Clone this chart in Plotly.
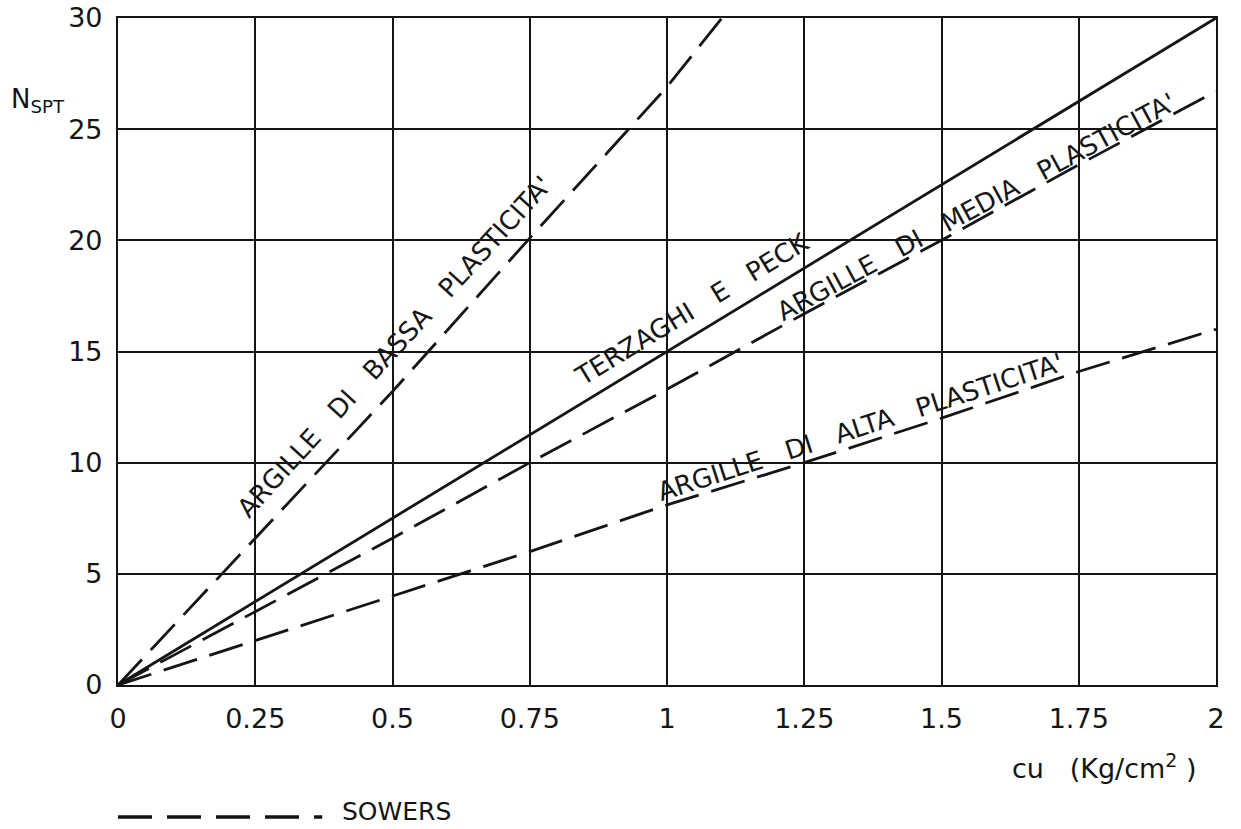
import plotly.graph_objects as go

# ---- data ----
cu_ticks = [0, 0.25, 0.5, 0.75, 1, 1.25, 1.5, 1.75, 2]
cu_tick_labels = ["0", "0.25", "0.5", "0.75", "1", "1.25", "1.5", "1.75", "2"]
n_ticks = [0, 5, 10, 15, 20, 25, 30]

terzaghi_cu = [0, 1.0, 2.0]
terzaghi_n = [0, 15.0, 30.0]

bassa_cu = [0, 0.25, 0.5, 0.75, 1.0, 1.1]
bassa_n = [0, 6.6, 13.2, 20.1, 26.9, 30.0]

media_cu = [0, 0.25, 0.5, 0.75, 1.0, 1.25, 1.5, 1.75, 2.0]
media_n = [0, 3.3, 6.6, 10.0, 13.3, 16.7, 20.0, 23.4, 26.7]

alta_cu = [0, 0.25, 0.5, 0.75, 1.0, 1.25, 1.5, 1.75, 2.0]
alta_n = [0, 2.0, 4.0, 6.0, 8.1, 10.0, 12.0, 14.1, 16.0]

SP = "\u00a0\u00a0\u00a0"
labels = [
    ("ARGILLE" + SP + "DI" + SP + "BASSA" + SP + "PLASTICITA'", 0.503, 15.2, -47.6),
    ("TERZAGHI" + SP + "E" + SP + "PECK", 1.046, 16.9, -31.3),
    ("ARGILLE" + SP + "DI" + SP + "MEDIA" + SP + "PLASTICITA'", 1.563, 21.5, -28.4),
    ("ARGILLE" + SP + "DI" + SP + "ALTA" + SP + "PLASTICITA'", 1.353, 11.6, -18.0),
]

INK = "#151515"
FONT = "DejaVu Sans"
DASH = "35px,13px"

fig = go.Figure()
fig.add_trace(go.Scatter(x=terzaghi_cu, y=terzaghi_n, mode="lines",
                         line=dict(color=INK, width=2.8), name="Terzaghi e Peck",
                         showlegend=False))
for xs, ys, nm in [(bassa_cu, bassa_n, "bassa"), (media_cu, media_n, "media"),
                   (alta_cu, alta_n, "alta")]:
    fig.add_trace(go.Scatter(x=xs, y=ys, mode="lines",
                             line=dict(color=INK, width=2.8, dash=DASH),
                             name=nm, showlegend=False))

for txt, x, y, ang in labels:
    fig.add_annotation(x=x, y=y, xref="x", yref="y", text=txt, showarrow=False,
                       textangle=ang, xanchor="center", yanchor="middle",
                       font=dict(family=FONT, size=26, color=INK))

# axis titles
fig.add_annotation(x=-0.0725, y=0.877, xref="paper", yref="paper", text="N<sub>SPT</sub>",
                   showarrow=False, xanchor="center", yanchor="middle",
                   font=dict(family=FONT, size=26, color=INK))
fig.add_annotation(x=0.898, y=-0.1226, xref="paper", yref="paper",
                   text="cu" + SP + "(Kg/cm<sup>2</sup>\u00a0)",
                   showarrow=False, xanchor="center", yanchor="middle",
                   font=dict(family=FONT, size=27, color=INK))

# legend sample (Sowers)
fig.add_shape(type="line", xref="paper", yref="paper", x0=0.0, x1=0.186,
              y0=-0.198, y1=-0.198, line=dict(color=INK, width=3.5, dash="34px,15px"))
fig.add_annotation(x=0.202, y=-0.19, xref="paper", yref="paper", text="SOWERS",
                   showarrow=False, xanchor="left", yanchor="middle",
                   font=dict(family=FONT, size=25, color=INK))

axis_common = dict(showgrid=True, gridcolor=INK, gridwidth=2, showline=True,
                   linecolor=INK, linewidth=2.2, mirror=True, zeroline=False,
                   automargin=False, ticks="",
                   tickfont=dict(family=FONT, size=27, color=INK))
fig.update_xaxes(range=[0, 2], tickvals=cu_ticks, ticktext=cu_tick_labels,
                 ticklabelstandoff=8, **axis_common)
fig.update_yaxes(range=[0, 30], tickvals=n_ticks, ticklabelstandoff=8, **axis_common)

fig.update_layout(width=1241, height=829, autosize=False,
                  margin=dict(l=118, r=25, t=18, b=144),
                  paper_bgcolor="white", plot_bgcolor="white", showlegend=False)

fig.write_html("out.html")
